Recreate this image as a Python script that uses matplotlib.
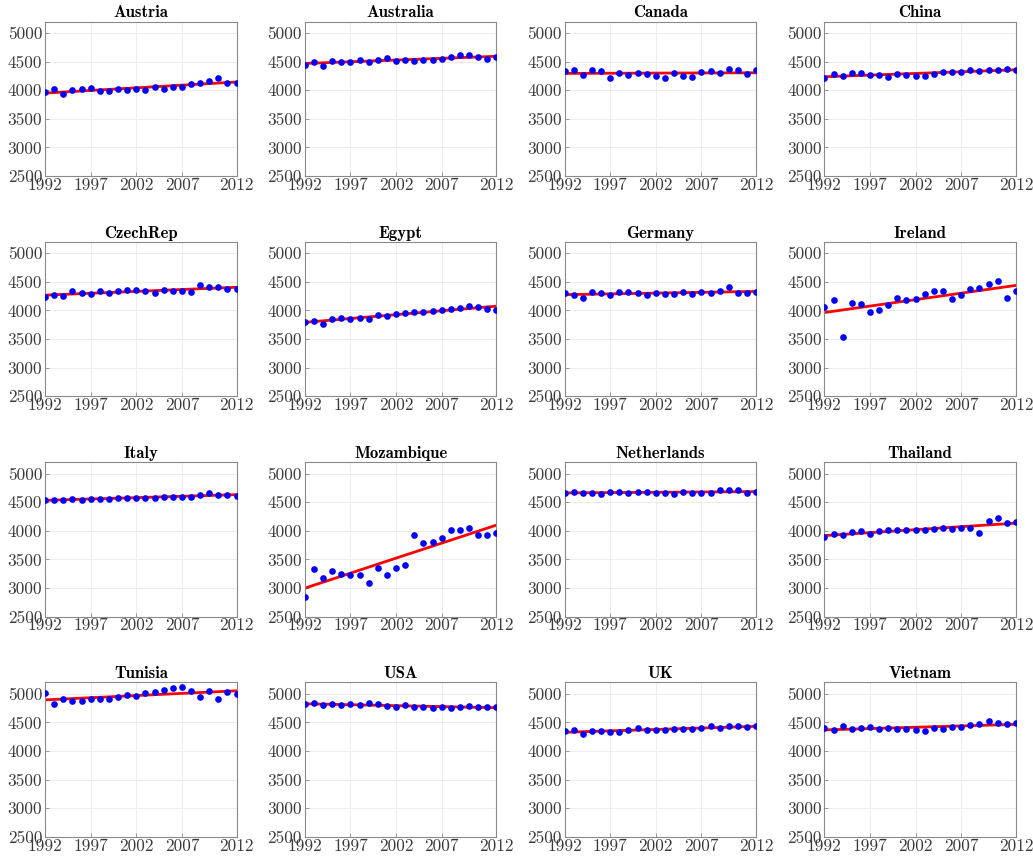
import numpy as np
import matplotlib
matplotlib.use('Agg')
import matplotlib.pyplot as plt

# 22 observations per country, shown against tick labels 1992..2012
countries = ['Austria', 'Australia', 'Canada', 'China',
             'CzechRep', 'Egypt', 'Germany', 'Ireland',
             'Italy', 'Mozambique', 'Netherlands', 'Thailand',
             'Tunisia', 'USA', 'UK', 'Vietnam']

austria = [3960, 4012, 3928, 4003, 4026, 4037, 3988, 3983, 4014, 3997, 4017,
           4006, 4049, 4020, 4049, 4055, 4101, 4125, 4165, 4217, 4130, 4130]
australia = [4442, 4494, 4425, 4517, 4500, 4500, 4529, 4488, 4535, 4558, 4506,
             4529, 4517, 4535, 4523, 4540, 4575, 4622, 4610, 4587, 4546, 4575]
canada = [4344, 4355, 4257, 4361, 4344, 4211, 4309, 4268, 4303, 4286, 4251,
          4216, 4292, 4245, 4222, 4315, 4332, 4303, 4367, 4361, 4286, 4349]
china = [4210, 4290, 4246, 4292, 4295, 4264, 4258, 4232, 4275, 4269, 4252,
         4252, 4284, 4324, 4312, 4324, 4350, 4336, 4358, 4361, 4367, 4350]
czech = [4230, 4265, 4247, 4345, 4305, 4287, 4339, 4305, 4345, 4351, 4351,
         4333, 4310, 4356, 4345, 4345, 4322, 4448, 4414, 4408, 4380, 4380]
egypt = [3793, 3816, 3770, 3845, 3873, 3850, 3862, 3850, 3925, 3896, 3937,
         3954, 3971, 3966, 3988, 4006, 4029, 4040, 4080, 4063, 4029, 4006]
germany = [4299, 4264, 4218, 4322, 4305, 4276, 4322, 4316, 4310, 4270, 4310,
           4293, 4293, 4316, 4287, 4316, 4310, 4345, 4402, 4305, 4310, 4322]
ireland = [4069, 4184, 3540, 4126, 4115, 3977, 4006, 4098, 4218, 4178, 4195,
           4287, 4339, 4339, 4195, 4264, 4374, 4385, 4460, 4518, 4218, 4339]
italy = [4546, 4535, 4540, 4552, 4540, 4558, 4552, 4564, 4581, 4575, 4575,
         4581, 4575, 4587, 4587, 4598, 4587, 4627, 4662, 4627, 4627, 4616]
mozambique = [2837, 3325, 3174, 3302, 3250, 3232, 3227, 3093, 3343, 3221, 3349,
              3401, 3930, 3791, 3797, 3878, 4017, 4017, 4041, 3930, 3930, 3965]
netherlands = [4662, 4685, 4662, 4668, 4645, 4673, 4679, 4662, 4685, 4679, 4668,
               4656, 4650, 4679, 4656, 4656, 4656, 4714, 4720, 4714, 4656, 4685]
thailand = [3896, 3936, 3925, 3977, 4000, 3948, 3994, 4006, 4017, 4006, 4017,
            4006, 4023, 4040, 4023, 4052, 4040, 3954, 4173, 4220, 4133, 4156]
tunisia = [5012, 4815, 4908, 4867, 4867, 4902, 4913, 4908, 4948, 4983, 4971,
           5017, 5040, 5069, 5098, 5116, 5046, 4948, 5052, 4913, 5035, 5000]
usa = [4827, 4838, 4803, 4821, 4809, 4815, 4809, 4832, 4815, 4792, 4775,
       4798, 4775, 4763, 4746, 4775, 4757, 4775, 4792, 4769, 4763, 4775]
uk = [4344, 4373, 4303, 4355, 4355, 4326, 4332, 4361, 4396, 4361, 4373,
      4367, 4390, 4390, 4379, 4408, 4431, 4408, 4431, 4442, 4413, 4431]
vietnam = [4396, 4373, 4436, 4384, 4402, 4419, 4390, 4402, 4390, 4390, 4367,
           4350, 4396, 4384, 4425, 4425, 4448, 4471, 4517, 4494, 4465, 4483]

series = [austria, australia, canada, china, czech, egypt, germany, ireland,
          italy, mozambique, netherlands, thailand, tunisia, usa, uk, vietnam]

xtick_pos = [1, 6, 11, 16, 22]
xtick_labels = ['1992', '1997', '2002', '2007', '2012']
yticks = [2500, 3000, 3500, 4000, 4500, 5000]

fig, axes = plt.subplots(4, 4, figsize=(10.33, 8.61), dpi=100)
fig.subplots_adjust(left=0.0436, right=0.9835, top=0.975, bottom=0.028,
                    wspace=0.356, hspace=0.426)

for ax, name, vals in zip(axes.flat, countries, series):
    y = np.array(vals, dtype=float)
    x = np.arange(1, len(y) + 1)
    slope, icpt = np.polyfit(x, y, 1)
    ax.plot(x, slope * x + icpt, color='red', lw=2.0, zorder=2)
    ax.plot(x, y, 'o', color='blue', markersize=4.8, markeredgewidth=0, zorder=3)

    ax.set_xlim(1, 22)
    ax.set_ylim(2500, 5200)
    ax.set_xticks(xtick_pos)
    ax.set_xticklabels(xtick_labels, family='cmr10', fontsize=12.5)
    ax.set_yticks(yticks)
    ax.set_yticklabels([str(v) for v in yticks], family='cmr10', fontsize=12.5)
    ax.tick_params(direction='in', length=3, width=0.6, colors='#8a8a8a',
                   labelcolor='#3a3a3a', pad=2)
    ax.tick_params(axis='x', pad=1)
    ax.grid(True, color='#ececec', lw=0.7)
    ax.set_axisbelow(True)
    for s in ax.spines.values():
        s.set_color('#8a8a8a')
        s.set_linewidth(0.8)
    ax.set_title(name, family='cmb10', fontsize=12, pad=3)

fig.savefig('out.png', dpi=100)
